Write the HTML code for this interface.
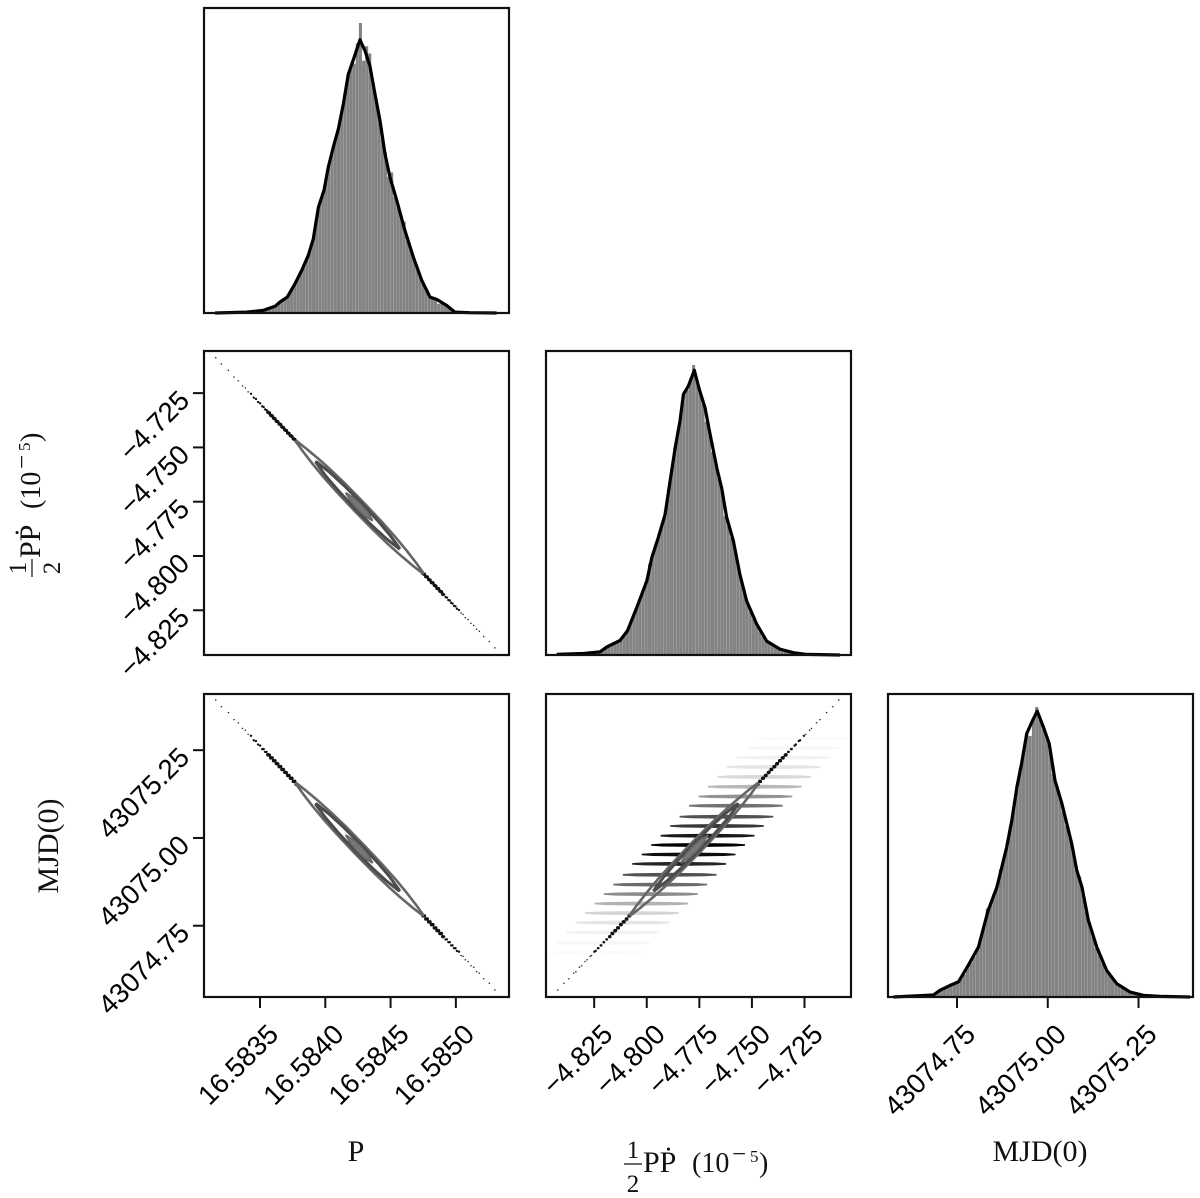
<!DOCTYPE html>
<html>
<head>
<meta charset="utf-8">
<title>Corner plot</title>
<style>
html,body{margin:0;padding:0;background:#fff;}
svg{display:block;}
.tick-label{font-family:"Liberation Sans",sans-serif;font-size:27.6px;fill:#000;}
.axis-title{font-family:"Liberation Serif",serif;font-size:30px;fill:#111;}
.small{font-size:25px;}
.mid{font-size:28px;}
.sup{font-size:17px;}
</style>
</head>
<body>
<svg id="chart" width="1200" height="1198" viewBox="0 0 1200 1198" xmlns="http://www.w3.org/2000/svg">
  <rect x="0" y="0" width="1200" height="1198" fill="#fff"/>
  <g id="panels"></g>
  <text class="axis-title" x="356" y="1161" text-anchor="middle">P</text>
  <g transform="translate(624,1172)">
    <text class="axis-title small" x="9" y="-14" text-anchor="middle">1</text>
    <line x1="0" x2="18" y1="-8" y2="-8" stroke="#111" stroke-width="1.2"/>
    <text class="axis-title small" x="9" y="20" text-anchor="middle">2</text>
    <text class="axis-title" x="19" y="0">P&#7766;</text>
    <text class="axis-title mid" x="68" y="0">(10</text>
    <text class="axis-title small" x="108" y="-10">&#8722;</text>
    <text class="axis-title sup" x="126" y="-10">5</text>
    <text class="axis-title mid" x="135" y="0">)</text>
  </g>
  <text class="axis-title" x="1040" y="1161" text-anchor="middle">MJD(0)</text>
  <g transform="translate(40,577) rotate(-90)">
    <text class="axis-title small" x="9" y="-14" text-anchor="middle">1</text>
    <line x1="0" x2="18" y1="-8" y2="-8" stroke="#111" stroke-width="1.2"/>
    <text class="axis-title small" x="9" y="20" text-anchor="middle">2</text>
    <text class="axis-title" x="19" y="0">P&#7766;</text>
    <text class="axis-title mid" x="68" y="0">(10</text>
    <text class="axis-title small" x="108" y="-10">&#8722;</text>
    <text class="axis-title sup" x="126" y="-10">5</text>
    <text class="axis-title mid" x="135" y="0">)</text>
  </g>
  <text class="axis-title" transform="translate(58,846) rotate(-90)" text-anchor="middle">MJD(0)</text>
</svg>
<script>
// P values: units of 1e-6 from 16.584; Pdot: units of 1e-3 from -4.775; MJD: units of 0.01 from 43075
const pTicks = [-500, 0, 500, 1000];
const pTickLabels = ["16.5835", "16.5840", "16.5845", "16.5850"];
const pdotTicks = [-50, -25, 0, 25, 50];
const pdotTickLabels = ["\u22124.825", "\u22124.800", "\u22124.775", "\u22124.750", "\u22124.725"];
const mjdTicks = [-25, 0, 25];
const mjdTickLabels = ["43074.75", "43075.00", "43075.25"];

const pBinRange = [-845, 1312];
const pBins = [0,0,1,0,1,1,1,2,2,3,3,4,5,6,7,9,13,17,22,26,36,44,52,62,78,100,122,144,168,190,225,262,330,378,415,465,515,560,600,640,695,755,820,850,860,930,1000,870,920,895,790,730,675,600,555,470,485,400,365,330,315,250,220,190,160,125,100,80,55,50,45,32,35,28,20,12,4,3,3,2,2,1,1,1,1,0,1,0,0,0];
const pKdeX = [-845,-602,-475,-385,-347,-291,-232,-181,-130,-92,-53,-10,23,61,100,138,176,220,266,304,342,381,419,457,495,547,610,674,738,802,853,930,993,1108,1312];
const pKdeY = [0,.003,.009,.023,.038,.055,.101,.147,.199,.256,.365,.423,.503,.572,.635,.72,.823,.88,.942,.904,.852,.755,.663,.549,.469,.389,.285,.193,.113,.055,.047,.026,.003,.001,0];

const pdotBinRange = [-67.8, 66.9];
const pdotBins = [0,0,1,0,1,2,2,3,4,5,6,7,8,10,14,24,32,38,42,46,54,68,85,108,135,165,198,225,255,315,350,385,415,455,495,570,640,715,775,835,900,915,950,1000,950,905,865,805,770,700,660,610,565,480,445,405,375,315,265,215,180,150,125,105,82,64,48,40,33,26,21,17,14,11,9,7,6,4,3,2,2,1,1,1,0,1,0,0,0,0];
const pdotKdeX = [-67.8,-55.1,-47.2,-44,-37.7,-34.2,-29.8,-25,-22.6,-19.5,-16.3,-13.9,-11.5,-9.2,-7.6,-5.2,-2.4,0,2.7,5.1,8.3,10.6,13,16.2,19.3,22.5,27.3,32,38.4,44.7,51,66.9];
const pdotKdeY = [.002,.005,.011,.028,.05,.083,.163,.255,.336,.405,.485,.6,.715,.807,.899,.928,.982,.916,.853,.761,.646,.577,.474,.393,.278,.186,.106,.048,.02,.008,.002,0];

const mjdBinRange = [-42.5, 39.2];
const mjdBins = [0,0,0,1,1,1,2,3,3,4,5,6,8,18,26,32,38,44,46,50,62,78,100,120,140,165,205,250,305,325,355,390,440,480,530,590,655,730,790,850,905,900,960,1000,955,925,895,860,770,725,690,640,590,550,505,440,415,355,295,250,210,170,145,118,92,78,62,50,40,32,24,18,14,11,9,6,5,4,3,2,2,2,1,1,1,1,0,0,0,0];
const mjdKdeX = [-42.5,-31.5,-29.7,-26.9,-24.6,-21.9,-19.1,-16.4,-14,-11.3,-9.9,-8.5,-7.2,-5.8,-4.4,-2.9,-1.2,.4,2,3.9,6.6,8,9.4,11.2,13.5,16.2,19,22.7,26.3,30.9,39.2];
const mjdKdeY = [0,.007,.023,.04,.052,.109,.172,.299,.379,.517,.609,.724,.805,.908,.948,.986,.931,.874,.747,.667,.529,.437,.38,.264,.172,.092,.046,.017,.006,.002,0];

const sampleP = [1299,1256,1213,1180,1159,1137,1116,1094,1072,1056,1040,1024,1008,997,986,975,964,954,943,932,921,910,900,889,878,867,856,846,835,824,813,802,792,781,770,759,748,-224,-234,-245,-256,-267,-278,-288,-299,-310,-321,-332,-342,-353,-364,-375,-386,-396,-407,-418,-429,-440,-450,-461,-472,-483,-499,-515,-531,-548,-569,-591,-612,-634,-666,-699,-742,-796,-839];
const samplePdot = [-67.3,-64.4,-62.1,-59.7,-58.7,-57,-56,-54.3,-53.4,-51.9,-51.3,-49.9,-49.3,-48.2,-48,-46.9,-46.6,-45.5,-45.3,-44.2,-43.9,-42.8,-42.6,-41.5,-41.2,-40.1,-39.9,-38.8,-38.5,-37.4,-37.2,-36.1,-35.8,-34.7,-34.5,-33.4,-33.1,27.9,28.7,29,30.1,30.4,31.4,31.7,32.8,33.1,34.1,34.4,35.5,35.8,36.8,37.1,38.2,38.5,39.5,39.8,40.9,41.2,42.2,42.5,43.6,43.9,45.3,45.9,47.3,47.9,49.7,50.6,52.4,53.3,55.7,57.4,60.5,63.4,66.3];
const sampleMjd = [-43.3,-41.4,-40.1,-38.5,-38.1,-36.8,-36.4,-35.2,-34.7,-33.7,-33.5,-32.4,-32.2,-31.4,-31.4,-30.6,-30.6,-29.7,-29.7,-28.9,-28.9,-28.1,-28.1,-27.2,-27.2,-26.4,-26.4,-25.6,-25.6,-24.7,-24.7,-23.9,-23.9,-23.1,-23.1,-22.2,-22.2,15.3,16.1,16.1,17,17,17.8,17.8,18.6,18.7,19.5,19.5,20.3,20.3,21.1,21.2,22,22,22.8,22.8,23.6,23.7,24.5,24.5,25.3,25.3,26.3,26.6,27.6,27.8,29.1,29.5,30.7,31.2,32.8,33.7,35.7,37.4,39.3];

// Contours: position along the ridge (t), half thickness
const outerAlong = [-.42,-.36,-.28,-.2,-.1,.03,.16,.26,.34,.42,.48];
const outerHalf = [.4,2.2,3.9,5.1,5.9,6.2,5.9,5.1,3.9,2.2,.4];
const middleAlong = [-.277,-.2,-.1,.02,.14,.23,.31];
const middleHalf = [.4,2.6,3.8,4.2,3.8,2.6,.4];
const innerAlong = [-.065,-.02,.03,.08,.12];
const innerHalf = [.4,2.4,3,2.4,.4];
const ridgeCenter = {p: 230, pdot: -.5, mjd: -2};
const ridgeSlope = {p: 1080, pdot: -67.5, mjd: -41.7};

// 2D histogram rows in the Pdot / MJD panel
const rowMjd = [28.3,25.7,22.9,20.2,17.4,14.6,11.8,9.2,6.05,3.4,.65,-2,-4.7,-7.4,-10.5,-13.3,-16,-18.7,-21.4,-24.1,-26.9,-29.9,-32.6];
const rowPdot = [48.9,44.4,39.9,35.4,30.9,26.4,21.9,17.4,12.9,8.4,3.9,-.6,-5.1,-9.6,-14.1,-18.6,-23.1,-27.6,-32.1,-36.6,-41.1,-45.6,-50.1];
const rowDensity = [.015,.03,.05,.1,.15,.28,.42,.55,.68,.78,.9,1,.95,.85,.68,.58,.45,.3,.17,.1,.05,.03,.015];
const rowHalfWidth = 22.3;

const NS = "http://www.w3.org/2000/svg";
const root = document.getElementById("panels");
function scale(d0, d1, r0, r1) { return v => r0 + (v - d0) / (d1 - d0) * (r1 - r0); }
function make(tag, parent, attrs) {
  const n = document.createElementNS(NS, tag);
  for (const k in attrs) n.setAttribute(k, attrs[k]);
  parent.appendChild(n);
  return n;
}
const colX = [204, 546, 888];
const rowY = [8, 351, 694];
const size = 305;
const rowH = [305, 304, 303];
const xP = scale(-929, 1407, 204, 509);
const xPdot = scale(-72.9, 72.1, 546, 851);
const xMjd = scale(-44, 40, 888, 1193);
const yPdot = scale(69.4, -70.6, 351, 655);
const yMjd = scale(41, -45.3, 694, 997);

function frame(col, row, name) {
  const g = make("g", root, {});
  
  
  return g;
}
function spine(g, col, row) {
  const s = make("rect", g, {x: colX[col], y: rowY[row], width: size, height: rowH[row], fill: "none", stroke: "#111", "stroke-width": 2.2});
  
  
}
function drawDiagonal(col, row, name, xs, range, bins, kdeX, kdeY) {
  const g = frame(col, row, name);
  const base = rowY[row] + rowH[row];
  const yS = d => base - d * 290;
  const step = (range[1] - range[0]) / bins.length;
  bins.forEach((b, i) => {
    const x0 = xs(range[0] + step * i), x1 = xs(range[0] + step * (i + 1));
    const r = make("rect", g, {x: x0, y: yS(b / 1000), width: Math.max(0, x1 - x0 - .12), height: base - yS(b / 1000), fill: "#838383"});
    
    
  });
  const line = make("polyline", g, {points: kdeX.map((v, i) => xs(v).toFixed(1) + "," + yS(kdeY[i]).toFixed(1)).join(" "), fill: "none", stroke: "#000", "stroke-width": 3.2, "stroke-linejoin": "round"});
  
  
  spine(g, col, row);
}
function lens(along, half, kx, ky, xs, ys) {
  const pt = (t, w, sgn) => {
    const x = xs(ridgeCenter[kx] + ridgeSlope[kx] * t), y = ys(ridgeCenter[ky] + ridgeSlope[ky] * t);
    const x2 = xs(ridgeCenter[kx] + ridgeSlope[kx] * (t + .1)), y2 = ys(ridgeCenter[ky] + ridgeSlope[ky] * (t + .1));
    const L = Math.hypot(x2 - x, y2 - y), nx = -(y2 - y) / L, ny = (x2 - x) / L;
    return (x + nx * w * sgn).toFixed(1) + "," + (y + ny * w * sgn).toFixed(1);
  };
  const a = along.map((t, i) => pt(t, half[i], 1));
  const b = along.map((t, i) => pt(t, half[i], -1)).reverse();
  return a.concat(b).join(" ");
}
function drawOffDiagonal(col, row, name, kx, ky, xs, ys, xValues, yValues) {
  const g = frame(col, row, name);
  if (kx === "pdot" && ky === "mjd") {
    rowMjd.forEach((m, i) => {
      const y = ys(m), x0 = xs(rowPdot[i] - rowHalfWidth), x1 = xs(rowPdot[i] + rowHalfWidth), w = x1 - x0;
      const pts = [[x0, y - .8], [x0 + w * .12, y - 1.5], [x0 + w * .5, y - 2], [x1 - w * .12, y - 1.5], [x1, y - .8], [x1, y + .8], [x1 - w * .12, y + 1.5], [x0 + w * .5, y + 2], [x0 + w * .12, y + 1.5], [x0, y + .8]];
      const s = make("polygon", g, {points: pts.map(p => p[0].toFixed(1) + "," + p[1].toFixed(1)).join(" "), fill: "#000", "fill-opacity": rowDensity[i]});
      
      
    });
  }
  xValues.forEach((v, i) => {
    const dev = Math.abs(sampleP[i] - 230);
    const c = make("circle", g, {cx: xs(v), cy: ys(yValues[i]), r: dev < 680 ? 1.75 : (dev < 800 ? 1.2 : .8), fill: dev < 800 ? "#111" : "#333"});
    
    
  });
  const outer = make("polygon", g, {points: lens(outerAlong, outerHalf, kx, ky, xs, ys), fill: "#fff", "fill-opacity": kx === "pdot" ? 0 : 1, stroke: "#666", "stroke-width": 2.6, "stroke-linejoin": "round"});
  
  
  const middle = make("polygon", g, {points: lens(middleAlong, middleHalf, kx, ky, xs, ys), fill: "none", stroke: "#4c4c4c", "stroke-width": 3, "stroke-linejoin": "round"});
  
  
  const inner = make("polygon", g, {points: lens(innerAlong, innerHalf, kx, ky, xs, ys), fill: "#777", stroke: "#666", "stroke-width": 1.5});
  
  
  spine(g, col, row);
}
function xAxis(col, name, ticks, labels, xs) {
  const g = frame(col, 2, name);
  const y0 = rowY[2] + rowH[2];
  ticks.forEach((v, i) => {
    const x = xs(v);
    const t = make("line", g, {x1: x, x2: x, y1: y0, y2: y0 + 11, stroke: "#111", "stroke-width": 2});
    
    
    const l = make("text", g, {class: "tick-label", "text-anchor": "end", transform: "translate(" + (x + 20) + "," + (y0 + 39) + ") rotate(-45)"});
    l.textContent = labels[i];
    
    
  });
}
function yAxis(row, name, ticks, labels, ys) {
  const g = frame(0, row, name);
  ticks.forEach((v, i) => {
    const y = ys(v);
    const t = make("line", g, {x1: 204, x2: 193, y1: y, y2: y, stroke: "#111", "stroke-width": 2});
    
    
    const l = make("text", g, {class: "tick-label", "text-anchor": "end", transform: "translate(191," + (y + 9) + ") rotate(-45)"});
    l.textContent = labels[i];
    
    
  });
}
drawDiagonal(0, 0, "histogram-p", xP, pBinRange, pBins, pKdeX, pKdeY);
drawOffDiagonal(0, 1, "scatter-p-pdot", "p", "pdot", xP, yPdot, sampleP, samplePdot);
drawDiagonal(1, 1, "histogram-pdot", xPdot, pdotBinRange, pdotBins, pdotKdeX, pdotKdeY);
drawOffDiagonal(0, 2, "scatter-p-mjd", "p", "mjd", xP, yMjd, sampleP, sampleMjd);
drawOffDiagonal(1, 2, "scatter-pdot-mjd", "pdot", "mjd", xPdot, yMjd, samplePdot, sampleMjd);
drawDiagonal(2, 2, "histogram-mjd", xMjd, mjdBinRange, mjdBins, mjdKdeX, mjdKdeY);
xAxis(0, "x-axis-p", pTicks, pTickLabels, xP);
xAxis(1, "x-axis-pdot", pdotTicks, pdotTickLabels, xPdot);
xAxis(2, "x-axis-mjd", mjdTicks, mjdTickLabels, xMjd);
yAxis(1, "y-axis-pdot", pdotTicks, pdotTickLabels, yPdot);
yAxis(2, "y-axis-mjd", mjdTicks, mjdTickLabels, yMjd);
</script>
</body>
</html>
